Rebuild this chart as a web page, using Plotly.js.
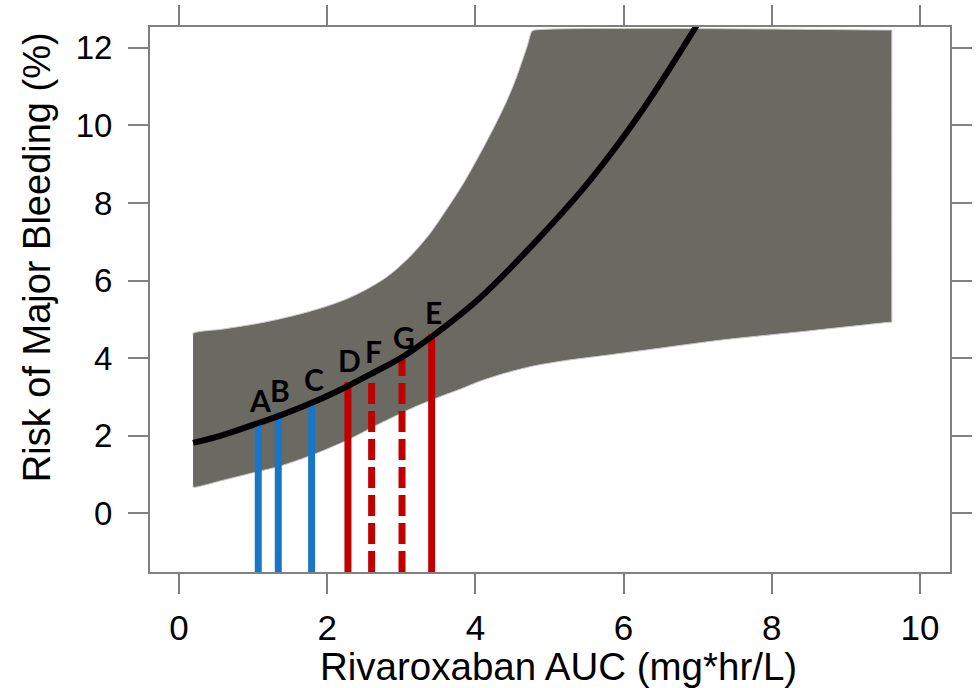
<!DOCTYPE html>
<html>
<head>
<meta charset="utf-8">
<script src="https://cdn.plot.ly/plotly-3.0.1.min.js"></script>
<style>html,body{margin:0;padding:0;background:#fff;}#chart{width:979px;height:688px;}</style>
</head>
<body>
<div id="chart"></div>
<script>
// ---- data ----
const bandUpperX = [0.19,0.19,0.6,1.0,1.36,1.7,2.0,2.27,2.5,2.75,2.94,3.16,3.39,3.6,3.83,4.0,4.15,4.29,4.42,4.52,4.62,4.70,4.76,4.80,9.58,9.62,9.62];
const bandUpperY = [4.58,4.64,4.75,4.87,5.01,5.17,5.34,5.53,5.74,6.02,6.30,6.70,7.22,7.80,8.48,9.05,9.58,10.10,10.62,11.07,11.60,12.05,12.42,12.46,12.46,12.46,12.40];
const bandLowerX = [0.19,0.19,0.6,1.0,1.36,1.8,2.27,2.7,3.16,3.52,3.8,4.06,4.42,4.8,5.2,5.68,6.36,7.3,8.5,9.57,9.62,9.62];
const bandLowerY = [0.72,0.67,0.85,1.04,1.21,1.50,1.88,2.30,2.72,3.00,3.20,3.40,3.62,3.80,3.93,4.05,4.22,4.46,4.70,4.92,4.93,4.99];
const curveX = [0.19,0.6,1.08,1.34,1.80,2.28,2.60,3.01,3.41,4.06,4.87,5.55,6.22,6.99];
const curveY = [1.81,2.02,2.33,2.50,2.85,3.28,3.60,4.02,4.55,5.55,7.12,8.59,10.30,12.59];
const barLabels = ['A','B','C','D','F','G','E'];
const barX = [1.07,1.34,1.79,2.28,2.60,3.01,3.41];
const barTop = [2.35,2.61,2.88,3.38,3.61,3.97,4.62];
const xTicks = [0,2,4,6,8,10];
const yTicks = [0,2,4,6,8,10,12];
const xTitle = 'Rivaroxaban AUC (mg*hr/L)';
const yTitle = 'Risk of Major Bleeding (%)';

// ---- styles ----
const xRange = [-0.391, 10.405];
const yRange = [-1.52, 12.54];
const blueSet = ['A','B','C'];
const dashedSet = ['F','G'];
const BLUE = '#1976c6', RED = '#c00000', BAND = '#6b6a62', AXIS = '#808080';

const traces = [];
// confidence band polygon
traces.push({
  x: bandUpperX.concat(bandLowerX.slice().reverse()),
  y: bandUpperY.concat(bandLowerY.slice().reverse()),
  mode: 'lines', fill: 'toself', fillcolor: BAND,
  line: {color: '#c9c9c9', width: 1, shape: 'spline', smoothing: 0.8},
  hoverinfo: 'skip', showlegend: false
});
// bars (drawn bottom -> top so dashes start at axis)
barLabels.forEach((lab, i) => {
  traces.push({
    x: [barX[i], barX[i]], y: [yRange[0], barTop[i]],
    mode: 'lines',
    line: {color: blueSet.includes(lab) ? BLUE : RED, width: 7,
           dash: dashedSet.includes(lab) ? '21px,7px' : 'solid'},
    showlegend: false, hoverinfo: 'skip'
  });
});
// central curve
traces.push({
  x: curveX, y: curveY, mode: 'lines',
  line: {color: '#000', width: 6, shape: 'spline'}, showlegend: false
});

const annotations = barLabels.map((lab, i) => ({
  x: barX[i], y: barTop[i], xref: 'x', yref: 'y', text: '<b>' + lab + '</b>',
  showarrow: false, yanchor: 'middle', xanchor: 'center', yshift: 22, xshift: 2,
  font: {family: 'Lato, "Open Sans", sans-serif', size: 30, color: '#000'}
}));
// axis titles placed as in the reference
annotations.push({
  xref: 'paper', yref: 'paper', x: -0.141, y: 0.578, xanchor: 'center', yanchor: 'middle',
  text: yTitle, textangle: -90, showarrow: false,
  font: {family: '"Liberation Sans", Arial, sans-serif', size: 38, color: '#000'}
});
annotations.push({
  xref: 'paper', yref: 'paper', x: 0.511, y: -0.1725, xanchor: 'center', yanchor: 'middle',
  text: xTitle, showarrow: false,
  font: {family: '"Liberation Sans", Arial, sans-serif', size: 38.5, color: '#000'}
});

const axisCommon = {
  showline: true, linecolor: AXIS, linewidth: 2, mirror: 'ticks',
  ticks: 'outside', ticklen: 20, tickwidth: 2, tickcolor: AXIS,
  showgrid: false, zeroline: false
};

const layout = {
  width: 979, height: 688,
  margin: {l: 150, r: 29, t: 27, b: 116},
  paper_bgcolor: '#fff', plot_bgcolor: '#fff',
  font: {family: '"Liberation Sans", Arial, sans-serif', color: '#000'},
  xaxis: Object.assign({}, axisCommon, {
    range: xRange, tickvals: xTicks, ticktext: xTicks.map(String),
    tickfont: {size: 35, color: '#000'}, ticklabelstandoff: 4
  }),
  yaxis: Object.assign({}, axisCommon, {
    range: yRange, tickvals: yTicks, ticktext: yTicks.map(String),
    tickfont: {size: 33, color: '#000'}, ticklabelstandoff: 9
  }),
  annotations: annotations,
  showlegend: false
};

Plotly.newPlot('chart', traces, layout, {displayModeBar: false, staticPlot: true});
</script>
</body>
</html>
